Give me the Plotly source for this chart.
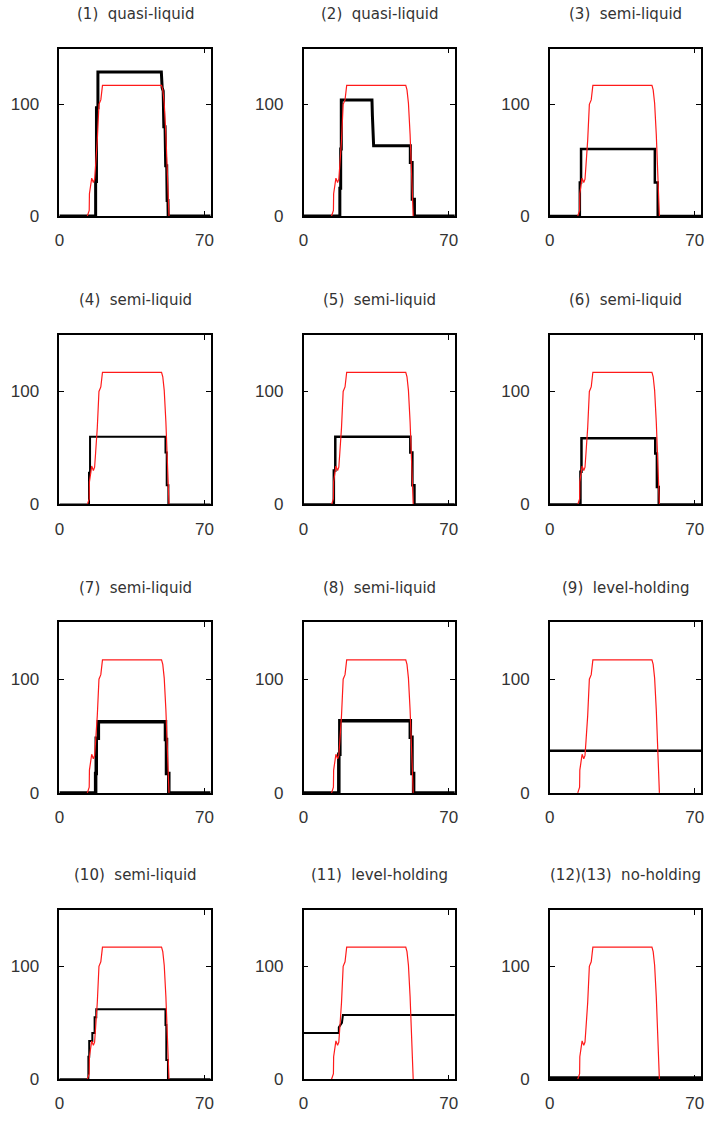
import plotly.graph_objects as go

W, H = 708, 1123

# Panel titles, row by row
titles = [
    "(1)  quasi-liquid", "(2)  quasi-liquid", "(3)  semi-liquid",
    "(4)  semi-liquid", "(5)  semi-liquid", "(6)  semi-liquid",
    "(7)  semi-liquid", "(8)  semi-liquid", "(9)  level-holding",
    "(10)  semi-liquid", "(11)  level-holding", "(12)(13)  no-holding",
]

# Reference (red) profile, identical in every panel
red_x = [13.5, 14.4, 14.5, 15.4, 15.6, 16.4, 17.0, 17.5, 18.3, 19.1, 20.0, 20.8,
         49.3, 49.9, 50.6, 51.4, 51.9, 52.4, 52.9]
red_y = [0, 5, 20, 33, 34, 30, 33, 46, 68, 100, 104, 117,
         117, 113, 101, 73, 48, 23, 0]

# Holding (black) profiles, one per panel
p1_x = [0, 17.5, 17.5, 17.9, 17.9, 18.6, 18.6, 49.2, 49.6, 50.1, 50.4, 51.0, 51.3, 51.8, 52.0, 52.4, 52.5, 73]
p1_y = [0, 0, 31, 31, 97, 97, 129, 129, 115, 112, 80, 80, 45, 45, 14, 14, 0, 0]

p2_x = [0, 17.5, 17.5, 17.9, 17.9, 18.2, 18.2, 33.0, 33.2, 33.6, 33.8, 51.5, 51.5, 52.4, 52.4, 53.5, 53.5, 73]
p2_y = [0, 0, 25, 25, 60, 60, 104, 104, 90, 75, 63, 63, 48, 48, 15, 15, 0, 0]

p3_x = [0, 14.5, 14.5, 15.1, 15.1, 50.7, 50.7, 52.1, 52.1, 73]
p3_y = [0, 0, 30, 30, 60, 60, 30, 30, 0, 0]

p4_x = [0, 14.3, 14.3, 14.8, 14.8, 51.2, 51.2, 51.8, 51.8, 52.6, 52.6, 73]
p4_y = [0, 0, 28, 28, 60, 60, 46, 46, 17, 17, 0, 0]

p5_x = [0, 14.6, 14.6, 15.3, 15.3, 51.5, 51.5, 52.5, 52.5, 53.5, 53.5, 73]
p5_y = [0, 0, 30, 30, 60, 60, 46, 46, 17, 17, 0, 0]

p6_x = [0, 14.8, 14.8, 15.3, 15.3, 50.9, 50.9, 51.7, 51.7, 52.6, 52.6, 73]
p6_y = [0, 0, 29, 29, 58.5, 58.5, 45, 45, 15.5, 15.5, 0, 0]

p7_x = [0, 17.5, 17.5, 17.8, 17.8, 18.8, 18.8, 51.2, 51.2, 51.7, 51.7, 52.8, 52.8, 73]
p7_y = [0, 0, 17, 17, 48, 48, 62.5, 62.5, 47, 47, 17, 17, 0, 0]

p8_x = [0, 17.0, 17.0, 17.5, 17.5, 51.5, 51.5, 52.3, 52.3, 53.1, 53.1, 73]
p8_y = [0, 0, 34, 34, 63.5, 63.5, 49, 49, 17, 17, 0, 0]

p9_x = [0, 73]
p9_y = [37, 37]

p10_x = [0, 14.0, 14.0, 14.4, 14.4, 15.9, 15.9, 17.0, 17.0, 17.8, 17.8, 51.2, 51.2, 51.6, 51.6, 52.4, 52.4, 73]
p10_y = [0, 0, 20, 20, 34, 34, 41, 41, 55, 55, 62, 62, 48, 48, 17, 17, 0, 0]

p11_x = [0, 17.0, 17.0, 18.5, 19.0, 73]
p11_y = [41, 41, 46, 50, 57, 57]

p12_x = [0, 73]
p12_y = [0, 0]

black_x = [p1_x, p2_x, p3_x, p4_x, p5_x, p6_x, p7_x, p8_x, p9_x, p10_x, p11_x, p12_x]
black_y = [p1_y, p2_y, p3_y, p4_y, p5_y, p6_y, p7_y, p8_y, p9_y, p10_y, p11_y, p12_y]
black_w = [3, 3, 2.5, 2, 2.5, 2.5, 3.5, 3.5, 2.5, 2, 2, 6]

x_ticks = [0, 70]
y_ticks = [0, 100]

# Pixel boxes of the panel grid
col_px = [(55, 208), (302, 455), (551, 704)]
row_px = [(49, 218), (338, 509), (628, 800), (918, 1089)]

fig = go.Figure()
layout = dict(
    width=W, height=H, margin=dict(l=0, r=0, t=0, b=0),
    paper_bgcolor="white", plot_bgcolor="white", showlegend=False,
    annotations=[],
)

tick_font = dict(family="Liberation Sans, Arial, sans-serif", size=17, color="#333")
title_font = dict(family="DejaVu Sans, sans-serif", size=15, color="#333")

for i in range(12):
    r, c = divmod(i, 3)
    x0, x1 = col_px[c]
    y0, y1 = row_px[r]
    n = "" if i == 0 else str(i + 1)
    xa, ya = "x" + n, "y" + n

    fig.add_trace(go.Scatter(x=black_x[i], y=black_y[i], mode="lines",
                             line=dict(color="black", width=black_w[i]),
                             xaxis=xa, yaxis=ya, hoverinfo="skip"))
    fig.add_trace(go.Scatter(x=red_x, y=red_y, mode="lines",
                             line=dict(color="#ff1a1a", width=1.2),
                             xaxis=xa, yaxis=ya, hoverinfo="skip"))

    common = dict(showline=True, linecolor="black", linewidth=1.5, mirror="ticks",
                  ticks="inside", ticklen=5, tickwidth=1.3, tickcolor="black",
                  showgrid=False, zeroline=False, tickfont=tick_font,
                  fixedrange=True)
    layout["xaxis" + n] = dict(common, domain=[x0 / W, x1 / W], range=[0, 73],
                               tickvals=x_ticks, anchor=ya, ticklabelstandoff=8)
    layout["yaxis" + n] = dict(common, domain=[1 - y1 / H, 1 - y0 / H], range=[0, 150],
                               tickvals=y_ticks, anchor=xa, ticklabelstandoff=15)

    layout["annotations"].append(dict(
        text=titles[i], showarrow=False, xref="paper", yref="paper",
        x=(x0 + x1) / 2 / W, y=1 - (y0 - 35) / H,
        xanchor="center", yanchor="middle", font=title_font))

fig.update_layout(**layout)
fig.write_html("out.html")
